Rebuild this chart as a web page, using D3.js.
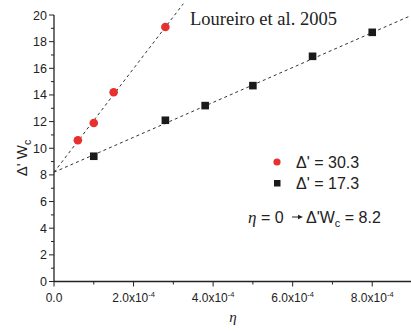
<!DOCTYPE html>
<html>
<head>
<meta charset="utf-8">
<script src="https://cdn.jsdelivr.net/npm/d3@7"></script>
<style>
  body { margin: 0; background: #fff; }
  svg { display: block; }
</style>
</head>
<body>
<svg id="chart" width="411" height="332"></svg>
<script>
// data
const etaRed = [0.6e-4, 1.0e-4, 1.5e-4, 2.8e-4];
const wcRed = [10.6, 11.9, 14.2, 19.1];
const etaBlack = [1.0e-4, 2.8e-4, 3.8e-4, 5.0e-4, 6.5e-4, 8.0e-4];
const wcBlack = [9.4, 12.1, 13.2, 14.7, 16.9, 18.7];
// linear fits (common intercept at eta = 0)
const fitIntercept = 8.2;
const fitSlopes = [38900, 13100];
const fitEnds = [3.25e-4, 9.0e-4];
const legendLabels = ["\u0394' = 30.3", "\u0394' = 17.3"];
const xTicks = [0, 2e-4, 4e-4, 6e-4, 8e-4];
const yTicks = [0, 2, 4, 6, 8, 10, 12, 14, 16, 18, 20];

const svg = d3.select('#chart');
const red = '#e8302e';
const black = '#1a1a1a';

const x = d3.scaleLinear().domain([0, 9e-4]).range([54, 412]);
const y = d3.scaleLinear().domain([0, 20]).range([281.5, 15]);

// axes
const xAxis = svg.append('g').attr('transform', `translate(0,${y(0)})`);
xAxis.append('line')
	.attr('x1', x(0)).attr('x2', x(9e-4))
	.attr('stroke', '#222').attr('stroke-width', 1.3);
xAxis.selectAll('.minor')
	.data(d3.range(1, 9, 2).map(d => d * 1e-4))
	.enter().append('line')
	.attr('x1', d => x(d)).attr('x2', d => x(d))
	.attr('y1', 0).attr('y2', 3)
	.attr('stroke', '#222');
xAxis.selectAll('.major')
	.data(xTicks)
	.enter().append('line')
	.attr('x1', d => x(d)).attr('x2', d => x(d))
	.attr('y1', 0).attr('y2', 5)
	.attr('stroke', '#222');
const xLabels = xAxis.selectAll('.lbl')
	.data(xTicks)
	.enter().append('text')
	.attr('x', d => x(d))
	.attr('y', 20)
	.attr('text-anchor', 'middle')
	.attr('font-family', 'Liberation Sans, Arial, sans-serif')
	.attr('font-size', '12px')
	.attr('fill', '#222');
xLabels.each(function(d) {
	const t = d3.select(this);
	if (d === 0) { t.text('0.0'); return; }
	t.append('tspan').text((d / 1e-4).toFixed(1) + 'x10');
	t.append('tspan').attr('dy', -5).attr('font-size', '7.5px').text('-4');
});

const yAxis = svg.append('g').attr('transform', `translate(${x(0)},0)`);
yAxis.append('line')
	.attr('y1', y(0)).attr('y2', y(20))
	.attr('stroke', '#222').attr('stroke-width', 1.3);
yAxis.selectAll('.minor')
	.data(d3.range(1, 20, 2))
	.enter().append('line')
	.attr('x1', 0).attr('x2', -3)
	.attr('y1', d => y(d)).attr('y2', d => y(d))
	.attr('stroke', '#222');
yAxis.selectAll('.major')
	.data(yTicks)
	.enter().append('line')
	.attr('x1', 0).attr('x2', -5)
	.attr('y1', d => y(d)).attr('y2', d => y(d))
	.attr('stroke', '#222');
yAxis.selectAll('.lbl')
	.data(yTicks)
	.enter().append('text')
	.attr('x', -7)
	.attr('y', d => y(d) + 4.5)
	.attr('text-anchor', 'end')
	.attr('font-family', 'Liberation Sans, Arial, sans-serif')
	.attr('font-size', '12.5px')
	.attr('fill', '#222')
	.text(d => d);

// axis titles
const yTitle = svg.append('text')
	.attr('transform', `translate(27,158) rotate(-90)`)
	.attr('text-anchor', 'middle')
	.attr('font-family', 'Liberation Sans, Arial, sans-serif')
	.attr('font-size', '15px')
	.attr('fill', '#222');
yTitle.append('tspan').text("\u0394' W");
yTitle.append('tspan').attr('dy', 4).attr('font-size', '10.5px').text('c');

svg.append('text')
	.attr('x', 233).attr('y', 322)
	.attr('text-anchor', 'middle')
	.attr('font-family', 'Liberation Serif, Times New Roman, serif')
	.attr('font-style', 'italic')
	.attr('font-size', '15px')
	.attr('fill', '#222')
	.text('\u03b7');

// fit lines
svg.selectAll('.fit')
	.data(fitSlopes)
	.enter().append('line')
	.attr('x1', x(0)).attr('y1', y(fitIntercept))
	.attr('x2', (d, i) => x(fitEnds[i]))
	.attr('y2', (d, i) => y(fitIntercept + d * fitEnds[i]))
	.attr('stroke', '#333')
	.attr('stroke-width', 1)
	.attr('stroke-dasharray', '3,3');

// points
svg.selectAll('.red')
	.data(etaRed)
	.enter().append('circle')
	.attr('cx', d => x(d))
	.attr('cy', (d, i) => y(wcRed[i]))
	.attr('r', 4.3)
	.attr('fill', red);

svg.selectAll('.black')
	.data(etaBlack)
	.enter().append('rect')
	.attr('x', d => x(d) - 3.8)
	.attr('y', (d, i) => y(wcBlack[i]) - 3.8)
	.attr('width', 7.6).attr('height', 7.6)
	.attr('fill', black);

// reference title
svg.append('text')
	.attr('x', 190).attr('y', 25)
	.attr('font-family', 'Liberation Serif, Times New Roman, serif')
	.attr('font-size', '18.5px')
	.attr('fill', '#222')
	.text('Loureiro et al. 2005');

// legend
const legend = svg.append('g').attr('font-family', 'Liberation Sans, Arial, sans-serif')
	.attr('font-size', '16px').attr('fill', '#222');
legend.append('circle').attr('cx', 277).attr('cy', 162).attr('r', 3.6).attr('fill', red);
legend.append('rect').attr('x', 274).attr('y', 180).attr('width', 6.5).attr('height', 6.5).attr('fill', black);
legend.selectAll('.ltxt')
	.data(legendLabels)
	.enter().append('text')
	.attr('x', 296)
	.attr('y', (d, i) => 167.5 + i * 21)
	.text(d => d);

const note = legend.append('text').attr('x', 248).attr('y', 222.5);
note.append('tspan').attr('font-family', 'Liberation Serif, Times New Roman, serif')
	.attr('font-style', 'italic').attr('font-size', '17px').text('\u03b7');
note.append('tspan').text(' = 0');
const note2 = legend.append('text').attr('x', 306).attr('y', 222.5);
note2.append('tspan').text("\u0394'W");
note2.append('tspan').attr('dy', 4).attr('font-size', '11px').text('c');
note2.append('tspan').attr('dy', -4).text(' = 8.2');

// small arrow
legend.append('line').attr('x1', 292).attr('x2', 299).attr('y1', 217).attr('y2', 217)
	.attr('stroke', '#222').attr('stroke-width', 1);
legend.append('path').attr('d', 'M298,214.8L303,217L298,219.2Z').attr('fill', '#222');
</script>
</body>
</html>
